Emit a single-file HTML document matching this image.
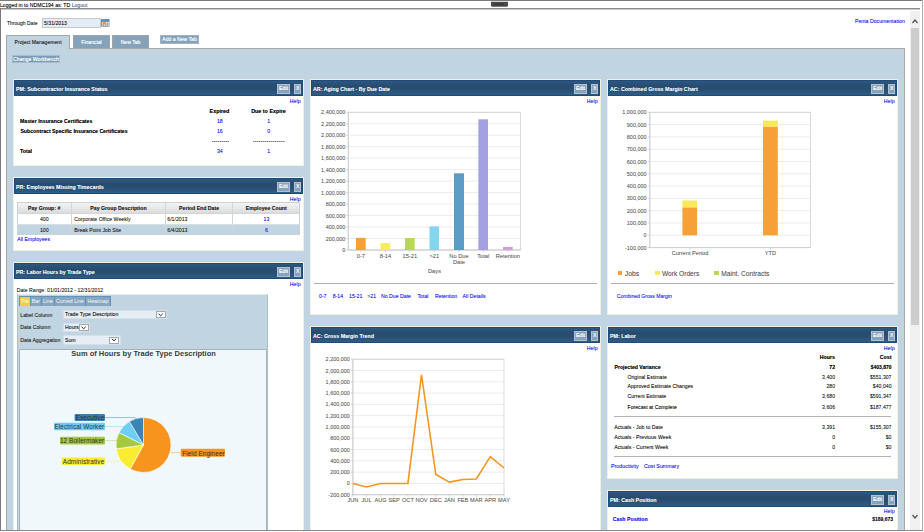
<!DOCTYPE html>
<html><head><meta charset="utf-8"><style>
html,body{margin:0;padding:0;}
body{width:924px;height:532px;overflow:hidden;position:relative;background:#fff;font-family:"Liberation Sans", sans-serif;}
.t{position:absolute;white-space:nowrap;text-shadow:0 0 0.5px color-mix(in srgb,currentColor 45%,transparent);}
.r{position:absolute;}
</style></head><body>
<div class="r" style="left:0.00px;top:0.00px;width:923.00px;height:1.00px;background:#7a7a7a;"></div>
<div class="t" style="top:2.88px;font-size:5.15px;line-height:5.15px;font-weight:normal;color:#000;left:0.00px;">Logged in to NDMC194 as: TD <span style="color:#50648c">Logout</span></div>
<div class="r" style="left:0.00px;top:8.00px;width:920.00px;height:1.00px;background:#8c8c8c;"></div>
<div class="r" style="left:0.00px;top:9.00px;width:920.00px;height:1.00px;background:#c8c8c8;"></div>
<div class="r" style="left:0.00px;top:8.00px;width:1.00px;height:523.00px;background:#7a7a7a;"></div>
<div class="r" style="left:922.00px;top:0.00px;width:1.00px;height:531.00px;background:#b0b0b0;"></div>
<div class="t" style="top:21.25px;font-size:5.0px;line-height:5.0px;font-weight:normal;color:#222;left:7.00px;">Through Date</div>
<div class="r" style="left:42.00px;top:18.00px;width:59.00px;height:10.00px;background:#e3ebf3;border:1px solid #c8c8c8;box-sizing:border-box;"></div>
<div class="t" style="top:21.48px;font-size:5.15px;line-height:5.15px;font-weight:normal;color:#111;left:44.00px;">5/31/2013</div>
<svg class="r" style="left:100.5px;top:18.8px" width="9" height="8"><rect x="0" y="0" width="8.5" height="7.7" rx="0.8" fill="#8d8d8d"/><rect x="0.3" y="0.2" width="7.9" height="2.1" fill="#4b92d2"/><rect x="1" y="3" width="1.4" height="1.6" fill="#f4f4f4"/><rect x="3" y="3" width="1.4" height="1.6" fill="#f4f4f4"/><rect x="5" y="3" width="1.4" height="1.6" fill="#f4f4f4"/><rect x="7" y="3" width="1" height="1.6" fill="#f4f4f4"/><rect x="1" y="5.2" width="1.4" height="1.7" fill="#d8d8d8"/><rect x="3" y="5.2" width="1.4" height="1.7" fill="#d8d8d8"/><rect x="5" y="5.2" width="1.4" height="1.7" fill="#d8d8d8"/><rect x="7" y="5.2" width="1" height="1.7" fill="#d8d8d8"/><circle cx="3.1" cy="3.6" r="1.3" fill="#fa8a10"/></svg>
<div class="t" style="top:19.15px;font-size:5.2px;line-height:5.2px;font-weight:normal;color:#1414f6;right:19.20px;">Penta Documentation</div>
<div class="r" style="left:6.00px;top:48.00px;width:899.00px;height:483.00px;background:#c1d4e2;border:1px solid #aaa6a6;border-bottom:none;box-sizing:border-box;"></div>
<div class="r" style="left:6.00px;top:35.00px;width:64.00px;height:14.00px;background:#c1d4e2;border:1px solid #aaa6a6;border-bottom:none;box-sizing:border-box;"></div>
<div class="t" style="top:39.70px;font-size:5.1px;line-height:5.1px;font-weight:normal;color:#111;left:14.60px;">Project Management</div>
<div class="r" style="left:73.00px;top:35.00px;width:37.00px;height:13.00px;background:#84a2b9;border:1px solid #a3a3a3;border-bottom:none;box-sizing:border-box;"></div>
<div class="t" style="top:40.00px;font-size:5.1px;line-height:5.1px;font-weight:normal;color:#ffffff;left:-58.50px;width:300px;text-align:center;text-shadow:0 0 0.5px rgba(255,255,255,0.85);">Financial</div>
<div class="r" style="left:112.00px;top:35.00px;width:37.00px;height:13.00px;background:#84a2b9;border:1px solid #a3a3a3;border-bottom:none;box-sizing:border-box;"></div>
<div class="t" style="top:40.00px;font-size:5.1px;line-height:5.1px;font-weight:normal;color:#ffffff;left:-19.50px;width:300px;text-align:center;text-shadow:0 0 0.5px rgba(255,255,255,0.85);">New Tab</div>
<div class="r" style="left:160.00px;top:35.00px;width:39.00px;height:9.00px;background:#84a2b9;border:1px solid #9fb3c3;box-sizing:border-box;"></div>
<div class="t" style="top:37.20px;font-size:5.1px;line-height:5.1px;font-weight:normal;color:#ffffff;left:29.50px;width:300px;text-align:center;text-shadow:0 0 0.5px rgba(255,255,255,0.85);">Add a New Tab</div>
<div class="r" style="left:12.00px;top:54.50px;width:48.00px;height:8.50px;background:#7b9cb6;border:1px solid #a9bccb;box-sizing:border-box;"></div>
<div class="t" style="top:57.45px;font-size:5.2px;line-height:5.2px;font-weight:normal;color:#ffffff;left:-114.00px;width:300px;text-align:center;text-shadow:0 0 0.5px rgba(255,255,255,0.85);">Change Workbench</div>
<div class="r" style="left:910.00px;top:11.00px;width:9.50px;height:519.00px;background:#f0f0f0;"></div>
<div class="r" style="left:911.00px;top:28.00px;width:8.00px;height:297.00px;background:#cdcdcd;"></div>
<svg class="r" style="left:910px;top:15px" width="10" height="12"><polyline points="2.5,8 5,5 7.5,8" fill="none" stroke="#505050" stroke-width="1.2"/></svg>
<svg class="r" style="left:910px;top:511px" width="10" height="12"><polyline points="2.5,4 5,7 7.5,4" fill="none" stroke="#505050" stroke-width="1.2"/></svg>
<div class="r" style="left:13.00px;top:79.00px;width:291.00px;height:87.00px;background:#ffffff;border:1px solid #f3efe2;box-sizing:border-box;"></div>
<div class="r" style="left:14.00px;top:80.00px;width:289.00px;height:16.00px;background:linear-gradient(#2c5882 0%,#284c6f 35%,#294e71 60%,#2e5d86 100%);border:1px solid #1f4b7b;box-sizing:border-box;"></div>
<div class="t" style="top:86.50px;font-size:5.3px;line-height:5.3px;font-weight:bold;color:#f8fafc;-webkit-text-stroke:0;left:16.00px;">PM: Subcontractor Insurance Status</div>
<div class="r" style="left:277.00px;top:84.00px;width:13.00px;height:10.00px;background:#86a3bd;border:1px solid #b4c2cf;box-sizing:border-box;"></div>
<div class="t" style="top:86.30px;font-size:5.3px;line-height:5.3px;font-weight:normal;color:#ffffff;left:133.50px;width:300px;text-align:center;text-shadow:0 0 0.5px rgba(255,255,255,0.85);">Edit</div>
<div class="r" style="left:294.40px;top:84.00px;width:6.60px;height:10.00px;background:#86a3bd;border:1px solid #b4c2cf;box-sizing:border-box;"></div>
<div class="t" style="top:86.35px;font-size:5.2px;line-height:5.2px;font-weight:normal;color:#ffffff;left:147.70px;width:300px;text-align:center;text-shadow:0 0 0.5px rgba(255,255,255,0.85);">X</div>
<div class="t" style="top:98.62px;font-size:5.25px;line-height:5.25px;font-weight:normal;color:#1414f6;right:623.40px;">Help</div>
<div class="r" style="left:13.00px;top:177.00px;width:291.00px;height:74.00px;background:#ffffff;border:1px solid #f3efe2;box-sizing:border-box;"></div>
<div class="r" style="left:14.00px;top:178.00px;width:289.00px;height:16.00px;background:linear-gradient(#2c5882 0%,#284c6f 35%,#294e71 60%,#2e5d86 100%);border:1px solid #1f4b7b;box-sizing:border-box;"></div>
<div class="t" style="top:184.50px;font-size:5.3px;line-height:5.3px;font-weight:bold;color:#f8fafc;-webkit-text-stroke:0;left:16.00px;">PR: Employees Missing Timecards</div>
<div class="r" style="left:277.00px;top:182.00px;width:13.00px;height:10.00px;background:#86a3bd;border:1px solid #b4c2cf;box-sizing:border-box;"></div>
<div class="t" style="top:184.30px;font-size:5.3px;line-height:5.3px;font-weight:normal;color:#ffffff;left:133.50px;width:300px;text-align:center;text-shadow:0 0 0.5px rgba(255,255,255,0.85);">Edit</div>
<div class="r" style="left:294.40px;top:182.00px;width:6.60px;height:10.00px;background:#86a3bd;border:1px solid #b4c2cf;box-sizing:border-box;"></div>
<div class="t" style="top:184.35px;font-size:5.2px;line-height:5.2px;font-weight:normal;color:#ffffff;left:147.70px;width:300px;text-align:center;text-shadow:0 0 0.5px rgba(255,255,255,0.85);">X</div>
<div class="t" style="top:196.62px;font-size:5.25px;line-height:5.25px;font-weight:normal;color:#1414f6;right:623.40px;">Help</div>
<div class="r" style="left:13.00px;top:262.00px;width:291.00px;height:278.00px;background:#ffffff;border:1px solid #f3efe2;box-sizing:border-box;"></div>
<div class="r" style="left:14.00px;top:263.00px;width:289.00px;height:16.00px;background:linear-gradient(#2c5882 0%,#284c6f 35%,#294e71 60%,#2e5d86 100%);border:1px solid #1f4b7b;box-sizing:border-box;"></div>
<div class="t" style="top:269.50px;font-size:5.3px;line-height:5.3px;font-weight:bold;color:#f8fafc;-webkit-text-stroke:0;left:16.00px;">PR: Labor Hours by Trade Type</div>
<div class="r" style="left:277.00px;top:267.00px;width:13.00px;height:10.00px;background:#86a3bd;border:1px solid #b4c2cf;box-sizing:border-box;"></div>
<div class="t" style="top:269.30px;font-size:5.3px;line-height:5.3px;font-weight:normal;color:#ffffff;left:133.50px;width:300px;text-align:center;text-shadow:0 0 0.5px rgba(255,255,255,0.85);">Edit</div>
<div class="r" style="left:294.40px;top:267.00px;width:6.60px;height:10.00px;background:#86a3bd;border:1px solid #b4c2cf;box-sizing:border-box;"></div>
<div class="t" style="top:269.35px;font-size:5.2px;line-height:5.2px;font-weight:normal;color:#ffffff;left:147.70px;width:300px;text-align:center;text-shadow:0 0 0.5px rgba(255,255,255,0.85);">X</div>
<div class="t" style="top:281.62px;font-size:5.25px;line-height:5.25px;font-weight:normal;color:#1414f6;right:623.40px;">Help</div>
<div class="r" style="left:310.00px;top:79.00px;width:291.00px;height:236.00px;background:#ffffff;border:1px solid #f3efe2;box-sizing:border-box;"></div>
<div class="r" style="left:311.00px;top:80.00px;width:289.00px;height:16.00px;background:linear-gradient(#2c5882 0%,#284c6f 35%,#294e71 60%,#2e5d86 100%);border:1px solid #1f4b7b;box-sizing:border-box;"></div>
<div class="t" style="top:86.50px;font-size:5.3px;line-height:5.3px;font-weight:bold;color:#f8fafc;-webkit-text-stroke:0;left:313.00px;">AR: Aging Chart - By Due Date</div>
<div class="r" style="left:574.00px;top:84.00px;width:13.00px;height:10.00px;background:#86a3bd;border:1px solid #b4c2cf;box-sizing:border-box;"></div>
<div class="t" style="top:86.30px;font-size:5.3px;line-height:5.3px;font-weight:normal;color:#ffffff;left:430.50px;width:300px;text-align:center;text-shadow:0 0 0.5px rgba(255,255,255,0.85);">Edit</div>
<div class="r" style="left:591.40px;top:84.00px;width:6.60px;height:10.00px;background:#86a3bd;border:1px solid #b4c2cf;box-sizing:border-box;"></div>
<div class="t" style="top:86.35px;font-size:5.2px;line-height:5.2px;font-weight:normal;color:#ffffff;left:444.70px;width:300px;text-align:center;text-shadow:0 0 0.5px rgba(255,255,255,0.85);">X</div>
<div class="t" style="top:98.62px;font-size:5.25px;line-height:5.25px;font-weight:normal;color:#1414f6;right:326.40px;">Help</div>
<div class="r" style="left:310.00px;top:326.00px;width:291.00px;height:214.00px;background:#ffffff;border:1px solid #f3efe2;box-sizing:border-box;"></div>
<div class="r" style="left:311.00px;top:327.00px;width:289.00px;height:16.00px;background:linear-gradient(#2c5882 0%,#284c6f 35%,#294e71 60%,#2e5d86 100%);border:1px solid #1f4b7b;box-sizing:border-box;"></div>
<div class="t" style="top:333.50px;font-size:5.3px;line-height:5.3px;font-weight:bold;color:#f8fafc;-webkit-text-stroke:0;left:313.00px;">AC: Gross Margin Trend</div>
<div class="r" style="left:574.00px;top:331.00px;width:13.00px;height:10.00px;background:#86a3bd;border:1px solid #b4c2cf;box-sizing:border-box;"></div>
<div class="t" style="top:333.30px;font-size:5.3px;line-height:5.3px;font-weight:normal;color:#ffffff;left:430.50px;width:300px;text-align:center;text-shadow:0 0 0.5px rgba(255,255,255,0.85);">Edit</div>
<div class="r" style="left:591.40px;top:331.00px;width:6.60px;height:10.00px;background:#86a3bd;border:1px solid #b4c2cf;box-sizing:border-box;"></div>
<div class="t" style="top:333.35px;font-size:5.2px;line-height:5.2px;font-weight:normal;color:#ffffff;left:444.70px;width:300px;text-align:center;text-shadow:0 0 0.5px rgba(255,255,255,0.85);">X</div>
<div class="t" style="top:345.62px;font-size:5.25px;line-height:5.25px;font-weight:normal;color:#1414f6;right:326.40px;">Help</div>
<div class="r" style="left:607.00px;top:79.00px;width:291.00px;height:236.00px;background:#ffffff;border:1px solid #f3efe2;box-sizing:border-box;"></div>
<div class="r" style="left:608.00px;top:80.00px;width:289.00px;height:16.00px;background:linear-gradient(#2c5882 0%,#284c6f 35%,#294e71 60%,#2e5d86 100%);border:1px solid #1f4b7b;box-sizing:border-box;"></div>
<div class="t" style="top:86.50px;font-size:5.3px;line-height:5.3px;font-weight:bold;color:#f8fafc;-webkit-text-stroke:0;left:610.00px;">AC: Combined Gross Margin Chart</div>
<div class="r" style="left:871.00px;top:84.00px;width:13.00px;height:10.00px;background:#86a3bd;border:1px solid #b4c2cf;box-sizing:border-box;"></div>
<div class="t" style="top:86.30px;font-size:5.3px;line-height:5.3px;font-weight:normal;color:#ffffff;left:727.50px;width:300px;text-align:center;text-shadow:0 0 0.5px rgba(255,255,255,0.85);">Edit</div>
<div class="r" style="left:888.40px;top:84.00px;width:6.60px;height:10.00px;background:#86a3bd;border:1px solid #b4c2cf;box-sizing:border-box;"></div>
<div class="t" style="top:86.35px;font-size:5.2px;line-height:5.2px;font-weight:normal;color:#ffffff;left:741.70px;width:300px;text-align:center;text-shadow:0 0 0.5px rgba(255,255,255,0.85);">X</div>
<div class="t" style="top:98.62px;font-size:5.25px;line-height:5.25px;font-weight:normal;color:#1414f6;right:29.40px;">Help</div>
<div class="r" style="left:607.00px;top:326.00px;width:291.00px;height:153.00px;background:#ffffff;border:1px solid #f3efe2;box-sizing:border-box;"></div>
<div class="r" style="left:608.00px;top:327.00px;width:289.00px;height:16.00px;background:linear-gradient(#2c5882 0%,#284c6f 35%,#294e71 60%,#2e5d86 100%);border:1px solid #1f4b7b;box-sizing:border-box;"></div>
<div class="t" style="top:333.50px;font-size:5.3px;line-height:5.3px;font-weight:bold;color:#f8fafc;-webkit-text-stroke:0;left:610.00px;">PM: Labor</div>
<div class="r" style="left:871.00px;top:331.00px;width:13.00px;height:10.00px;background:#86a3bd;border:1px solid #b4c2cf;box-sizing:border-box;"></div>
<div class="t" style="top:333.30px;font-size:5.3px;line-height:5.3px;font-weight:normal;color:#ffffff;left:727.50px;width:300px;text-align:center;text-shadow:0 0 0.5px rgba(255,255,255,0.85);">Edit</div>
<div class="r" style="left:888.40px;top:331.00px;width:6.60px;height:10.00px;background:#86a3bd;border:1px solid #b4c2cf;box-sizing:border-box;"></div>
<div class="t" style="top:333.35px;font-size:5.2px;line-height:5.2px;font-weight:normal;color:#ffffff;left:741.70px;width:300px;text-align:center;text-shadow:0 0 0.5px rgba(255,255,255,0.85);">X</div>
<div class="t" style="top:345.62px;font-size:5.25px;line-height:5.25px;font-weight:normal;color:#1414f6;right:29.40px;">Help</div>
<div class="r" style="left:607.00px;top:490.00px;width:291.00px;height:50.00px;background:#ffffff;border:1px solid #f3efe2;box-sizing:border-box;"></div>
<div class="r" style="left:608.00px;top:491.00px;width:289.00px;height:16.00px;background:linear-gradient(#2c5882 0%,#284c6f 35%,#294e71 60%,#2e5d86 100%);border:1px solid #1f4b7b;box-sizing:border-box;"></div>
<div class="t" style="top:497.50px;font-size:5.3px;line-height:5.3px;font-weight:bold;color:#f8fafc;-webkit-text-stroke:0;left:610.00px;">PM: Cash Position</div>
<div class="r" style="left:871.00px;top:495.00px;width:13.00px;height:10.00px;background:#86a3bd;border:1px solid #b4c2cf;box-sizing:border-box;"></div>
<div class="t" style="top:497.30px;font-size:5.3px;line-height:5.3px;font-weight:normal;color:#ffffff;left:727.50px;width:300px;text-align:center;text-shadow:0 0 0.5px rgba(255,255,255,0.85);">Edit</div>
<div class="r" style="left:888.40px;top:495.00px;width:6.60px;height:10.00px;background:#86a3bd;border:1px solid #b4c2cf;box-sizing:border-box;"></div>
<div class="t" style="top:497.35px;font-size:5.2px;line-height:5.2px;font-weight:normal;color:#ffffff;left:741.70px;width:300px;text-align:center;text-shadow:0 0 0.5px rgba(255,255,255,0.85);">X</div>
<div class="t" style="top:508.73px;font-size:5.25px;line-height:5.25px;font-weight:normal;color:#1414f6;right:29.40px;">Help</div>
<div class="t" style="top:108.55px;font-size:5.4px;line-height:5.4px;font-weight:bold;color:#000;-webkit-text-stroke:0;left:69.50px;width:300px;text-align:center;">Expired</div>
<div class="t" style="top:108.55px;font-size:5.4px;line-height:5.4px;font-weight:bold;color:#000;-webkit-text-stroke:0;left:118.50px;width:300px;text-align:center;">Due to Expire</div>
<div class="t" style="top:119.15px;font-size:5.2px;line-height:5.2px;font-weight:bold;color:#000;-webkit-text-stroke:0;left:20.00px;">Master Insurance Certificates</div>
<div class="t" style="top:129.15px;font-size:5.2px;line-height:5.2px;font-weight:bold;color:#000;-webkit-text-stroke:0;left:20.40px;">Subcontract Specific Insurance Certificates</div>
<div class="t" style="top:148.95px;font-size:5.2px;line-height:5.2px;font-weight:bold;color:#000;-webkit-text-stroke:0;left:20.00px;">Total</div>
<div class="t" style="top:119.15px;font-size:5.2px;line-height:5.2px;font-weight:normal;color:#1414f6;left:69.80px;width:300px;text-align:center;">18</div>
<div class="t" style="top:119.15px;font-size:5.2px;line-height:5.2px;font-weight:normal;color:#1414f6;left:118.70px;width:300px;text-align:center;">1</div>
<div class="t" style="top:129.15px;font-size:5.2px;line-height:5.2px;font-weight:normal;color:#1414f6;left:69.80px;width:300px;text-align:center;">16</div>
<div class="t" style="top:129.15px;font-size:5.2px;line-height:5.2px;font-weight:normal;color:#1414f6;left:118.70px;width:300px;text-align:center;">0</div>
<div class="t" style="top:148.95px;font-size:5.2px;line-height:5.2px;font-weight:normal;color:#1414f6;left:69.80px;width:300px;text-align:center;">34</div>
<div class="t" style="top:148.95px;font-size:5.2px;line-height:5.2px;font-weight:normal;color:#1414f6;left:118.70px;width:300px;text-align:center;">1</div>
<div class="r" style="left:212.00px;top:141.00px;width:17.00px;height:1.00px;background:repeating-linear-gradient(90deg,#7c7c7c 0 1px,#b4b4b4 1px 2px);"></div>
<div class="r" style="left:253.00px;top:141.00px;width:32.00px;height:1.00px;background:repeating-linear-gradient(90deg,#7c7c7c 0 1px,#b4b4b4 1px 2px);"></div>
<div class="r" style="left:17.00px;top:202.00px;width:283.00px;height:11.50px;background:linear-gradient(#f6f6f6,#d9d9d9);"></div>
<div class="r" style="left:17.00px;top:213.50px;width:283.00px;height:10.50px;background:#ffffff;"></div>
<div class="r" style="left:17.00px;top:224.00px;width:283.00px;height:11.00px;background:#c1d4e2;"></div>
<div class="r" style="left:17px;top:202px;width:283px;height:33px;border:1px solid #c9d2d8;box-sizing:border-box"></div>
<div class="r" style="left:70.80px;top:202.00px;width:1.00px;height:33.00px;background:#cfd6da;"></div>
<div class="r" style="left:165.10px;top:202.00px;width:1.00px;height:33.00px;background:#cfd6da;"></div>
<div class="r" style="left:232.10px;top:202.00px;width:1.00px;height:33.00px;background:#cfd6da;"></div>
<div class="r" style="left:17.00px;top:213.00px;width:283.00px;height:1.00px;background:#d0d6da;"></div>
<div class="r" style="left:17.00px;top:224.00px;width:283.00px;height:1.00px;background:#d8dfe4;"></div>
<div class="t" style="top:206.35px;font-size:5.2px;line-height:5.2px;font-weight:bold;color:#222;-webkit-text-stroke:0;left:-105.85px;width:300px;text-align:center;">Pay Group: #</div>
<div class="t" style="top:206.35px;font-size:5.2px;line-height:5.2px;font-weight:bold;color:#222;-webkit-text-stroke:0;left:-31.55px;width:300px;text-align:center;">Pay Group Description</div>
<div class="t" style="top:206.35px;font-size:5.2px;line-height:5.2px;font-weight:bold;color:#222;-webkit-text-stroke:0;left:49.10px;width:300px;text-align:center;">Period End Date</div>
<div class="t" style="top:206.35px;font-size:5.2px;line-height:5.2px;font-weight:bold;color:#222;-webkit-text-stroke:0;left:116.30px;width:300px;text-align:center;">Employee Count</div>
<div class="t" style="top:216.95px;font-size:5.2px;line-height:5.2px;font-weight:normal;color:#222;left:-105.80px;width:300px;text-align:center;">400</div>
<div class="t" style="top:216.95px;font-size:5.2px;line-height:5.2px;font-weight:normal;color:#222;left:74.20px;">Corporate Office Weekly</div>
<div class="t" style="top:216.95px;font-size:5.2px;line-height:5.2px;font-weight:normal;color:#222;left:167.30px;">6/1/2013</div>
<div class="t" style="top:216.95px;font-size:5.2px;line-height:5.2px;font-weight:normal;color:#1414f6;left:116.40px;width:300px;text-align:center;">13</div>
<div class="t" style="top:227.75px;font-size:5.2px;line-height:5.2px;font-weight:normal;color:#222;left:-105.80px;width:300px;text-align:center;">100</div>
<div class="t" style="top:227.75px;font-size:5.2px;line-height:5.2px;font-weight:normal;color:#222;left:74.20px;">Break Point Job Site</div>
<div class="t" style="top:227.75px;font-size:5.2px;line-height:5.2px;font-weight:normal;color:#222;left:167.30px;">6/4/2013</div>
<div class="t" style="top:227.75px;font-size:5.2px;line-height:5.2px;font-weight:normal;color:#1414f6;left:116.40px;width:300px;text-align:center;">6</div>
<div class="t" style="top:237.15px;font-size:5.2px;line-height:5.2px;font-weight:normal;color:#1414f6;left:17.20px;">All Employees</div>
<div class="t" style="top:287.88px;font-size:5.15px;line-height:5.15px;font-weight:normal;color:#222;left:16.80px;">Date Range: 01/01/2012 - 12/31/2012</div>
<div class="r" style="left:17.00px;top:294.00px;width:251.00px;height:237.00px;background:#c1d4e2;border:1px solid #aebfcc;border-top-color:#e4ecf2;box-sizing:border-box;"></div>
<div class="r" style="left:19.40px;top:296.20px;width:91.30px;height:10.10px;background:#5f93b8;"></div>
<div class="r" style="left:20.30px;top:297.00px;width:9.50px;height:8.50px;background:#f7cb4c;"></div>
<div class="t" style="top:298.95px;font-size:5.2px;line-height:5.2px;font-weight:normal;color:#fffdf0;left:-124.95px;width:300px;text-align:center;text-shadow:none;">Pie</div>
<div class="r" style="left:30.70px;top:297.00px;width:10.30px;height:8.50px;background:#87a6bf;"></div>
<div class="t" style="top:298.95px;font-size:5.2px;line-height:5.2px;font-weight:normal;color:#f8fafc;left:-114.15px;width:300px;text-align:center;text-shadow:none;">Bar</div>
<div class="r" style="left:42.00px;top:297.00px;width:12.00px;height:8.50px;background:#87a6bf;"></div>
<div class="t" style="top:298.95px;font-size:5.2px;line-height:5.2px;font-weight:normal;color:#f8fafc;left:-102.00px;width:300px;text-align:center;text-shadow:none;">Line</div>
<div class="r" style="left:55.00px;top:297.00px;width:30.00px;height:8.50px;background:#87a6bf;"></div>
<div class="t" style="top:298.95px;font-size:5.2px;line-height:5.2px;font-weight:normal;color:#f8fafc;left:-80.00px;width:300px;text-align:center;text-shadow:none;">Curved Line</div>
<div class="r" style="left:86.00px;top:297.00px;width:24.00px;height:8.50px;background:#87a6bf;"></div>
<div class="t" style="top:298.95px;font-size:5.2px;line-height:5.2px;font-weight:normal;color:#f8fafc;left:-52.00px;width:300px;text-align:center;text-shadow:none;">Heatmap</div>
<div class="t" style="top:313.15px;font-size:5.2px;line-height:5.2px;font-weight:normal;color:#222;left:20.30px;">Label Column</div>
<div class="t" style="top:325.45px;font-size:5.2px;line-height:5.2px;font-weight:normal;color:#222;left:20.30px;">Data Column</div>
<div class="t" style="top:337.85px;font-size:5.2px;line-height:5.2px;font-weight:normal;color:#222;left:20.30px;">Data Aggregation</div>
<div class="r" style="left:62.80px;top:309.50px;width:104.20px;height:9.50px;background:#e6eef5;border:1px solid #d6dfe7;box-sizing:border-box;"></div>
<div class="t" style="top:312.35px;font-size:5.2px;line-height:5.2px;font-weight:normal;color:#111;left:65.00px;">Trade Type Description</div>
<div class="r" style="left:156.30px;top:311.30px;width:9.30px;height:6.90px;background:#fdfdfd;border:1px solid #a3a9ae;box-sizing:border-box;"></div>
<svg class="r" style="left:156.30px;top:309.50px" width="9.3" height="9.50"><polyline points="2.55,3.75 4.65,5.75 6.75,3.75" fill="none" stroke="#1a1a1a" stroke-width="0.95"/></svg>
<div class="r" style="left:62.80px;top:322.50px;width:27.20px;height:9.50px;background:#e6eef5;border:1px solid #d6dfe7;box-sizing:border-box;"></div>
<div class="t" style="top:325.35px;font-size:5.2px;line-height:5.2px;font-weight:normal;color:#111;left:65.00px;">Hours</div>
<div class="r" style="left:79.40px;top:324.30px;width:9.30px;height:6.90px;background:#fdfdfd;border:1px solid #a3a9ae;box-sizing:border-box;"></div>
<svg class="r" style="left:79.40px;top:322.50px" width="9.3" height="9.50"><polyline points="2.55,3.75 4.65,5.75 6.75,3.75" fill="none" stroke="#1a1a1a" stroke-width="0.95"/></svg>
<div class="r" style="left:62.80px;top:335.00px;width:57.80px;height:9.60px;background:#e6eef5;border:1px solid #d6dfe7;box-sizing:border-box;"></div>
<div class="t" style="top:337.95px;font-size:5.2px;line-height:5.2px;font-weight:normal;color:#111;left:65.00px;">Sum</div>
<div class="r" style="left:109.30px;top:336.80px;width:10.00px;height:7.00px;background:#fdfdfd;border:1px solid #a3a9ae;box-sizing:border-box;"></div>
<svg class="r" style="left:109.30px;top:335.00px" width="10" height="9.60"><polyline points="2.90,3.80 5.00,5.80 7.10,3.80" fill="none" stroke="#1a1a1a" stroke-width="0.95"/></svg>
<div class="r" style="left:19.00px;top:348.50px;width:248.00px;height:182.50px;background:#f1f8fc;border:1px solid #a9b1b8;border-bottom:none;box-sizing:border-box;border-radius:1.5px 1.5px 0 0;"></div>
<div class="t" style="top:350.00px;font-size:7.5px;line-height:7.5px;font-weight:bold;color:#3a3a3a;-webkit-text-stroke:0;left:-6.40px;width:300px;text-align:center;text-shadow:none;">Sum of Hours by Trade Type Description</div>
<svg class="r" style="left:0;top:0" width="300" height="532"><path d="M143.5,445 L143.50,417.50 A27.5,27.5 0 1 1 130.17,469.05 Z" fill="#f7941d" stroke="#fff" stroke-width="0.6"/><path d="M143.5,445 L130.17,469.05 A27.5,27.5 0 0 1 116.27,448.83 Z" fill="#f9ec31" stroke="#fff" stroke-width="0.6"/><path d="M143.5,445 L116.27,448.83 A27.5,27.5 0 0 1 119.00,432.52 Z" fill="#a5c93d" stroke="#fff" stroke-width="0.6"/><path d="M143.5,445 L119.00,432.52 A27.5,27.5 0 0 1 129.34,421.43 Z" fill="#6dcff6" stroke="#fff" stroke-width="0.6"/><path d="M143.5,445 L129.34,421.43 A27.5,27.5 0 0 1 143.50,417.50 Z" fill="#3c84b7" stroke="#fff" stroke-width="0.6"/><polyline points="105,417.6 135,417.6 137.5,420" fill="none" stroke="#5a95c0" stroke-width="0.6"/><polyline points="105,426.5 124,426.5" fill="none" stroke="#8fdaf8" stroke-width="0.6"/><polyline points="105,440.6 117,440.6" fill="none" stroke="#b8d86a" stroke-width="0.6"/><polyline points="105,461.2 121,461.2" fill="none" stroke="#f7f08a" stroke-width="0.6"/><polyline points="171,452.7 180.7,452.7" fill="none" stroke="#f7a84a" stroke-width="0.6"/><rect x="74.6" y="414" width="30.400000000000006" height="7" rx="1.2" fill="#3c7fb2"/><rect x="54" y="422.7" width="51" height="7.600000000000023" rx="1.2" fill="#6dcff6"/><rect x="60" y="436.8" width="45" height="7.599999999999966" rx="1.2" fill="#a5c93d"/><rect x="61.6" y="457.4" width="43.4" height="7.600000000000023" rx="1.2" fill="#f9ec31"/><rect x="180.7" y="448.7" width="44.30000000000001" height="8.0" rx="1.2" fill="#f7941d"/></svg>
<div class="t" style="top:415.45px;font-size:6.4px;line-height:6.4px;font-weight:normal;color:#2e2e2e;right:819.70px;text-shadow:none;letter-spacing:0.1px;">Executive</div>
<div class="t" style="top:424.35px;font-size:6.4px;line-height:6.4px;font-weight:normal;color:#2e2e2e;right:819.70px;text-shadow:none;letter-spacing:0.1px;">Electrical Worker</div>
<div class="t" style="top:438.45px;font-size:6.4px;line-height:6.4px;font-weight:normal;color:#2e2e2e;right:819.70px;text-shadow:none;letter-spacing:0.1px;">12 Boilermaker</div>
<div class="t" style="top:459.05px;font-size:6.4px;line-height:6.4px;font-weight:normal;color:#2e2e2e;right:819.70px;text-shadow:none;letter-spacing:0.1px;">Administrative</div>
<div class="t" style="top:450.65px;font-size:6.4px;line-height:6.4px;font-weight:normal;color:#2e2e2e;left:182.20px;text-shadow:none;letter-spacing:0.1px;">Field Engineer</div>
<svg class="r" style="left:0;top:0" width="924" height="532"><line x1="348.3" y1="250.00" x2="520.5" y2="250.00" stroke="#e6e6e6" stroke-width="0.8"/><line x1="346.3" y1="250.00" x2="348.3" y2="250.00" stroke="#c8c8c8" stroke-width="0.8"/><line x1="348.3" y1="238.53" x2="520.5" y2="238.53" stroke="#e6e6e6" stroke-width="0.8"/><line x1="346.3" y1="238.53" x2="348.3" y2="238.53" stroke="#c8c8c8" stroke-width="0.8"/><line x1="348.3" y1="227.05" x2="520.5" y2="227.05" stroke="#e6e6e6" stroke-width="0.8"/><line x1="346.3" y1="227.05" x2="348.3" y2="227.05" stroke="#c8c8c8" stroke-width="0.8"/><line x1="348.3" y1="215.57" x2="520.5" y2="215.57" stroke="#e6e6e6" stroke-width="0.8"/><line x1="346.3" y1="215.57" x2="348.3" y2="215.57" stroke="#c8c8c8" stroke-width="0.8"/><line x1="348.3" y1="204.10" x2="520.5" y2="204.10" stroke="#e6e6e6" stroke-width="0.8"/><line x1="346.3" y1="204.10" x2="348.3" y2="204.10" stroke="#c8c8c8" stroke-width="0.8"/><line x1="348.3" y1="192.62" x2="520.5" y2="192.62" stroke="#e6e6e6" stroke-width="0.8"/><line x1="346.3" y1="192.62" x2="348.3" y2="192.62" stroke="#c8c8c8" stroke-width="0.8"/><line x1="348.3" y1="181.15" x2="520.5" y2="181.15" stroke="#e6e6e6" stroke-width="0.8"/><line x1="346.3" y1="181.15" x2="348.3" y2="181.15" stroke="#c8c8c8" stroke-width="0.8"/><line x1="348.3" y1="169.68" x2="520.5" y2="169.68" stroke="#e6e6e6" stroke-width="0.8"/><line x1="346.3" y1="169.68" x2="348.3" y2="169.68" stroke="#c8c8c8" stroke-width="0.8"/><line x1="348.3" y1="158.20" x2="520.5" y2="158.20" stroke="#e6e6e6" stroke-width="0.8"/><line x1="346.3" y1="158.20" x2="348.3" y2="158.20" stroke="#c8c8c8" stroke-width="0.8"/><line x1="348.3" y1="146.73" x2="520.5" y2="146.73" stroke="#e6e6e6" stroke-width="0.8"/><line x1="346.3" y1="146.73" x2="348.3" y2="146.73" stroke="#c8c8c8" stroke-width="0.8"/><line x1="348.3" y1="135.25" x2="520.5" y2="135.25" stroke="#e6e6e6" stroke-width="0.8"/><line x1="346.3" y1="135.25" x2="348.3" y2="135.25" stroke="#c8c8c8" stroke-width="0.8"/><line x1="348.3" y1="123.78" x2="520.5" y2="123.78" stroke="#e6e6e6" stroke-width="0.8"/><line x1="346.3" y1="123.78" x2="348.3" y2="123.78" stroke="#c8c8c8" stroke-width="0.8"/><line x1="348.3" y1="112.30" x2="520.5" y2="112.30" stroke="#e6e6e6" stroke-width="0.8"/><line x1="346.3" y1="112.30" x2="348.3" y2="112.30" stroke="#c8c8c8" stroke-width="0.8"/><rect x="348.3" y="112.30" width="172.2" height="137.70" fill="none" stroke="#cfcfcf" stroke-width="0.8"/><line x1="348.3" y1="112.30" x2="348.3" y2="250" stroke="#d0d0d0" stroke-width="1"/><line x1="348.3" y1="250" x2="520.5" y2="250" stroke="#cfcfcf" stroke-width="0.9"/><rect x="356" y="237.9" width="9.70" height="12.10" fill="#f7a035"/><line x1="360.85" y1="250" x2="360.85" y2="252" stroke="#c8c8c8" stroke-width="0.8"/><rect x="380.5" y="243" width="9.90" height="7.00" fill="#f9ee5a"/><line x1="385.45" y1="250" x2="385.45" y2="252" stroke="#c8c8c8" stroke-width="0.8"/><rect x="405" y="238" width="9.60" height="12.00" fill="#b7d84f"/><line x1="409.80" y1="250" x2="409.80" y2="252" stroke="#c8c8c8" stroke-width="0.8"/><rect x="429.5" y="226.4" width="9.50" height="23.60" fill="#84d5ef"/><line x1="434.25" y1="250" x2="434.25" y2="252" stroke="#c8c8c8" stroke-width="0.8"/><rect x="454" y="173.3" width="10.00" height="76.70" fill="#5c9bc4"/><line x1="459.00" y1="250" x2="459.00" y2="252" stroke="#c8c8c8" stroke-width="0.8"/><rect x="478.4" y="119.3" width="9.60" height="130.70" fill="#a49fe0"/><line x1="483.20" y1="250" x2="483.20" y2="252" stroke="#c8c8c8" stroke-width="0.8"/><rect x="503" y="247" width="9.70" height="3.00" fill="#d49cd9"/><line x1="507.85" y1="250" x2="507.85" y2="252" stroke="#c8c8c8" stroke-width="0.8"/></svg>
<div class="t" style="top:248.03px;font-size:5.45px;line-height:5.45px;font-weight:normal;color:#626262;right:578.70px;">0</div>
<div class="t" style="top:236.55px;font-size:5.45px;line-height:5.45px;font-weight:normal;color:#626262;right:578.70px;">200,000</div>
<div class="t" style="top:225.08px;font-size:5.45px;line-height:5.45px;font-weight:normal;color:#626262;right:578.70px;">400,000</div>
<div class="t" style="top:213.60px;font-size:5.45px;line-height:5.45px;font-weight:normal;color:#626262;right:578.70px;">600,000</div>
<div class="t" style="top:202.12px;font-size:5.45px;line-height:5.45px;font-weight:normal;color:#626262;right:578.70px;">800,000</div>
<div class="t" style="top:190.65px;font-size:5.45px;line-height:5.45px;font-weight:normal;color:#626262;right:578.70px;">1,000,000</div>
<div class="t" style="top:179.18px;font-size:5.45px;line-height:5.45px;font-weight:normal;color:#626262;right:578.70px;">1,200,000</div>
<div class="t" style="top:167.70px;font-size:5.45px;line-height:5.45px;font-weight:normal;color:#626262;right:578.70px;">1,400,000</div>
<div class="t" style="top:156.22px;font-size:5.45px;line-height:5.45px;font-weight:normal;color:#626262;right:578.70px;">1,600,000</div>
<div class="t" style="top:144.75px;font-size:5.45px;line-height:5.45px;font-weight:normal;color:#626262;right:578.70px;">1,800,000</div>
<div class="t" style="top:133.28px;font-size:5.45px;line-height:5.45px;font-weight:normal;color:#626262;right:578.70px;">2,000,000</div>
<div class="t" style="top:121.80px;font-size:5.45px;line-height:5.45px;font-weight:normal;color:#626262;right:578.70px;">2,200,000</div>
<div class="t" style="top:110.33px;font-size:5.45px;line-height:5.45px;font-weight:normal;color:#626262;right:578.70px;">2,400,000</div>
<div class="t" style="top:254.10px;font-size:5.7px;line-height:5.7px;font-weight:normal;color:#666;left:210.85px;width:300px;text-align:center;">0-7</div>
<div class="t" style="top:254.10px;font-size:5.7px;line-height:5.7px;font-weight:normal;color:#666;left:235.45px;width:300px;text-align:center;">8-14</div>
<div class="t" style="top:254.10px;font-size:5.7px;line-height:5.7px;font-weight:normal;color:#666;left:259.80px;width:300px;text-align:center;">15-21</div>
<div class="t" style="top:254.10px;font-size:5.7px;line-height:5.7px;font-weight:normal;color:#666;left:284.25px;width:300px;text-align:center;">&gt;21</div>
<div class="t" style="top:254.10px;font-size:5.7px;line-height:5.7px;font-weight:normal;color:#666;left:309.00px;width:300px;text-align:center;">No Due</div>
<div class="t" style="top:254.10px;font-size:5.7px;line-height:5.7px;font-weight:normal;color:#666;left:333.20px;width:300px;text-align:center;">Total</div>
<div class="t" style="top:254.10px;font-size:5.7px;line-height:5.7px;font-weight:normal;color:#666;left:357.85px;width:300px;text-align:center;">Retention</div>
<div class="t" style="top:260.20px;font-size:5.7px;line-height:5.7px;font-weight:normal;color:#666;left:309.00px;width:300px;text-align:center;">Date</div>
<div class="t" style="top:268.50px;font-size:5.7px;line-height:5.7px;font-weight:normal;color:#666;left:284.50px;width:300px;text-align:center;">Days</div>
<div class="r" style="left:313.70px;top:283.00px;width:283.30px;height:1.00px;background:#b0b0b0;"></div>
<div class="t" style="top:294.35px;font-size:5.2px;line-height:5.2px;font-weight:normal;color:#1414f6;left:319.00px;">0-7</div>
<div class="t" style="top:294.35px;font-size:5.2px;line-height:5.2px;font-weight:normal;color:#1414f6;left:332.70px;">8-14</div>
<div class="t" style="top:294.35px;font-size:5.2px;line-height:5.2px;font-weight:normal;color:#1414f6;left:349.00px;">15-21</div>
<div class="t" style="top:294.35px;font-size:5.2px;line-height:5.2px;font-weight:normal;color:#1414f6;left:367.30px;">&gt;21</div>
<div class="t" style="top:294.35px;font-size:5.2px;line-height:5.2px;font-weight:normal;color:#1414f6;left:381.00px;">No Due Date</div>
<div class="t" style="top:294.35px;font-size:5.2px;line-height:5.2px;font-weight:normal;color:#1414f6;left:417.50px;">Total</div>
<div class="t" style="top:294.35px;font-size:5.2px;line-height:5.2px;font-weight:normal;color:#1414f6;left:435.00px;">Retention</div>
<div class="t" style="top:294.35px;font-size:5.2px;line-height:5.2px;font-weight:normal;color:#1414f6;left:462.60px;">All Details</div>
<svg class="r" style="left:0;top:0" width="924" height="532"><line x1="352.9" y1="494.69" x2="504" y2="494.69" stroke="#e6e6e6" stroke-width="0.8"/><line x1="350.9" y1="494.69" x2="352.9" y2="494.69" stroke="#c8c8c8" stroke-width="0.8"/><line x1="352.9" y1="483.40" x2="504" y2="483.40" stroke="#e6e6e6" stroke-width="0.8"/><line x1="350.9" y1="483.40" x2="352.9" y2="483.40" stroke="#c8c8c8" stroke-width="0.8"/><line x1="352.9" y1="472.11" x2="504" y2="472.11" stroke="#e6e6e6" stroke-width="0.8"/><line x1="350.9" y1="472.11" x2="352.9" y2="472.11" stroke="#c8c8c8" stroke-width="0.8"/><line x1="352.9" y1="460.82" x2="504" y2="460.82" stroke="#e6e6e6" stroke-width="0.8"/><line x1="350.9" y1="460.82" x2="352.9" y2="460.82" stroke="#c8c8c8" stroke-width="0.8"/><line x1="352.9" y1="449.53" x2="504" y2="449.53" stroke="#e6e6e6" stroke-width="0.8"/><line x1="350.9" y1="449.53" x2="352.9" y2="449.53" stroke="#c8c8c8" stroke-width="0.8"/><line x1="352.9" y1="438.24" x2="504" y2="438.24" stroke="#e6e6e6" stroke-width="0.8"/><line x1="350.9" y1="438.24" x2="352.9" y2="438.24" stroke="#c8c8c8" stroke-width="0.8"/><line x1="352.9" y1="426.95" x2="504" y2="426.95" stroke="#e6e6e6" stroke-width="0.8"/><line x1="350.9" y1="426.95" x2="352.9" y2="426.95" stroke="#c8c8c8" stroke-width="0.8"/><line x1="352.9" y1="415.66" x2="504" y2="415.66" stroke="#e6e6e6" stroke-width="0.8"/><line x1="350.9" y1="415.66" x2="352.9" y2="415.66" stroke="#c8c8c8" stroke-width="0.8"/><line x1="352.9" y1="404.37" x2="504" y2="404.37" stroke="#e6e6e6" stroke-width="0.8"/><line x1="350.9" y1="404.37" x2="352.9" y2="404.37" stroke="#c8c8c8" stroke-width="0.8"/><line x1="352.9" y1="393.08" x2="504" y2="393.08" stroke="#e6e6e6" stroke-width="0.8"/><line x1="350.9" y1="393.08" x2="352.9" y2="393.08" stroke="#c8c8c8" stroke-width="0.8"/><line x1="352.9" y1="381.79" x2="504" y2="381.79" stroke="#e6e6e6" stroke-width="0.8"/><line x1="350.9" y1="381.79" x2="352.9" y2="381.79" stroke="#c8c8c8" stroke-width="0.8"/><line x1="352.9" y1="370.50" x2="504" y2="370.50" stroke="#e6e6e6" stroke-width="0.8"/><line x1="350.9" y1="370.50" x2="352.9" y2="370.50" stroke="#c8c8c8" stroke-width="0.8"/><line x1="352.9" y1="359.21" x2="504" y2="359.21" stroke="#e6e6e6" stroke-width="0.8"/><line x1="350.9" y1="359.21" x2="352.9" y2="359.21" stroke="#c8c8c8" stroke-width="0.8"/><rect x="352.9" y="359.21" width="151.10" height="135.48" fill="none" stroke="#cfcfcf" stroke-width="0.8"/><line x1="352.9" y1="359.21" x2="352.9" y2="494.69" stroke="#d0d0d0" stroke-width="1"/><line x1="352.9" y1="494.69" x2="504" y2="494.69" stroke="#cfcfcf" stroke-width="0.9"/><line x1="352.9" y1="494.69" x2="352.9" y2="496.69" stroke="#c8c8c8" stroke-width="0.8"/><line x1="366.5" y1="494.69" x2="366.5" y2="496.69" stroke="#c8c8c8" stroke-width="0.8"/><line x1="380.6" y1="494.69" x2="380.6" y2="496.69" stroke="#c8c8c8" stroke-width="0.8"/><line x1="394.2" y1="494.69" x2="394.2" y2="496.69" stroke="#c8c8c8" stroke-width="0.8"/><line x1="407.9" y1="494.69" x2="407.9" y2="496.69" stroke="#c8c8c8" stroke-width="0.8"/><line x1="421.5" y1="494.69" x2="421.5" y2="496.69" stroke="#c8c8c8" stroke-width="0.8"/><line x1="435.8" y1="494.69" x2="435.8" y2="496.69" stroke="#c8c8c8" stroke-width="0.8"/><line x1="449.4" y1="494.69" x2="449.4" y2="496.69" stroke="#c8c8c8" stroke-width="0.8"/><line x1="462.9" y1="494.69" x2="462.9" y2="496.69" stroke="#c8c8c8" stroke-width="0.8"/><line x1="476.3" y1="494.69" x2="476.3" y2="496.69" stroke="#c8c8c8" stroke-width="0.8"/><line x1="490.3" y1="494.69" x2="490.3" y2="496.69" stroke="#c8c8c8" stroke-width="0.8"/><line x1="504" y1="494.69" x2="504" y2="496.69" stroke="#c8c8c8" stroke-width="0.8"/><polyline points="352.9,483.4 366.5,487.0 380.6,483.4 394.2,483.4 407.9,483.4 421.5,374.8 435.8,474.5 449.4,482.1 462.9,479.5 476.3,479.0 490.3,456.7 504,468.0" fill="none" stroke="#f7941d" stroke-width="1.55" stroke-linejoin="miter"/></svg>
<div class="t" style="top:492.71px;font-size:5.45px;line-height:5.45px;font-weight:normal;color:#626262;right:574.20px;">-200,000</div>
<div class="t" style="top:481.42px;font-size:5.45px;line-height:5.45px;font-weight:normal;color:#626262;right:574.20px;">0</div>
<div class="t" style="top:470.13px;font-size:5.45px;line-height:5.45px;font-weight:normal;color:#626262;right:574.20px;">200,000</div>
<div class="t" style="top:458.84px;font-size:5.45px;line-height:5.45px;font-weight:normal;color:#626262;right:574.20px;">400,000</div>
<div class="t" style="top:447.55px;font-size:5.45px;line-height:5.45px;font-weight:normal;color:#626262;right:574.20px;">600,000</div>
<div class="t" style="top:436.26px;font-size:5.45px;line-height:5.45px;font-weight:normal;color:#626262;right:574.20px;">800,000</div>
<div class="t" style="top:424.97px;font-size:5.45px;line-height:5.45px;font-weight:normal;color:#626262;right:574.20px;">1,000,000</div>
<div class="t" style="top:413.68px;font-size:5.45px;line-height:5.45px;font-weight:normal;color:#626262;right:574.20px;">1,200,000</div>
<div class="t" style="top:402.39px;font-size:5.45px;line-height:5.45px;font-weight:normal;color:#626262;right:574.20px;">1,400,000</div>
<div class="t" style="top:391.10px;font-size:5.45px;line-height:5.45px;font-weight:normal;color:#626262;right:574.20px;">1,600,000</div>
<div class="t" style="top:379.81px;font-size:5.45px;line-height:5.45px;font-weight:normal;color:#626262;right:574.20px;">1,800,000</div>
<div class="t" style="top:368.52px;font-size:5.45px;line-height:5.45px;font-weight:normal;color:#626262;right:574.20px;">2,000,000</div>
<div class="t" style="top:357.23px;font-size:5.45px;line-height:5.45px;font-weight:normal;color:#626262;right:574.20px;">2,200,000</div>
<div class="t" style="top:498.12px;font-size:5.65px;line-height:5.65px;font-weight:normal;color:#666;left:202.90px;width:300px;text-align:center;">JUN</div>
<div class="t" style="top:498.12px;font-size:5.65px;line-height:5.65px;font-weight:normal;color:#666;left:216.50px;width:300px;text-align:center;">JUL</div>
<div class="t" style="top:498.12px;font-size:5.65px;line-height:5.65px;font-weight:normal;color:#666;left:230.60px;width:300px;text-align:center;">AUG</div>
<div class="t" style="top:498.12px;font-size:5.65px;line-height:5.65px;font-weight:normal;color:#666;left:244.20px;width:300px;text-align:center;">SEP</div>
<div class="t" style="top:498.12px;font-size:5.65px;line-height:5.65px;font-weight:normal;color:#666;left:257.90px;width:300px;text-align:center;">OCT</div>
<div class="t" style="top:498.12px;font-size:5.65px;line-height:5.65px;font-weight:normal;color:#666;left:271.50px;width:300px;text-align:center;">NOV</div>
<div class="t" style="top:498.12px;font-size:5.65px;line-height:5.65px;font-weight:normal;color:#666;left:285.80px;width:300px;text-align:center;">DEC</div>
<div class="t" style="top:498.12px;font-size:5.65px;line-height:5.65px;font-weight:normal;color:#666;left:299.40px;width:300px;text-align:center;">JAN</div>
<div class="t" style="top:498.12px;font-size:5.65px;line-height:5.65px;font-weight:normal;color:#666;left:312.90px;width:300px;text-align:center;">FEB</div>
<div class="t" style="top:498.12px;font-size:5.65px;line-height:5.65px;font-weight:normal;color:#666;left:326.30px;width:300px;text-align:center;">MAR</div>
<div class="t" style="top:498.12px;font-size:5.65px;line-height:5.65px;font-weight:normal;color:#666;left:340.30px;width:300px;text-align:center;">APR</div>
<div class="t" style="top:498.12px;font-size:5.65px;line-height:5.65px;font-weight:normal;color:#666;left:354.00px;width:300px;text-align:center;">MAY</div>
<svg class="r" style="left:0;top:0" width="924" height="532"><line x1="649.8" y1="247.60" x2="810.4" y2="247.60" stroke="#e6e6e6" stroke-width="0.8"/><line x1="647.8" y1="247.60" x2="649.8" y2="247.60" stroke="#c8c8c8" stroke-width="0.8"/><line x1="649.8" y1="235.30" x2="810.4" y2="235.30" stroke="#e6e6e6" stroke-width="0.8"/><line x1="647.8" y1="235.30" x2="649.8" y2="235.30" stroke="#c8c8c8" stroke-width="0.8"/><line x1="649.8" y1="223.00" x2="810.4" y2="223.00" stroke="#e6e6e6" stroke-width="0.8"/><line x1="647.8" y1="223.00" x2="649.8" y2="223.00" stroke="#c8c8c8" stroke-width="0.8"/><line x1="649.8" y1="210.70" x2="810.4" y2="210.70" stroke="#e6e6e6" stroke-width="0.8"/><line x1="647.8" y1="210.70" x2="649.8" y2="210.70" stroke="#c8c8c8" stroke-width="0.8"/><line x1="649.8" y1="198.40" x2="810.4" y2="198.40" stroke="#e6e6e6" stroke-width="0.8"/><line x1="647.8" y1="198.40" x2="649.8" y2="198.40" stroke="#c8c8c8" stroke-width="0.8"/><line x1="649.8" y1="186.10" x2="810.4" y2="186.10" stroke="#e6e6e6" stroke-width="0.8"/><line x1="647.8" y1="186.10" x2="649.8" y2="186.10" stroke="#c8c8c8" stroke-width="0.8"/><line x1="649.8" y1="173.80" x2="810.4" y2="173.80" stroke="#e6e6e6" stroke-width="0.8"/><line x1="647.8" y1="173.80" x2="649.8" y2="173.80" stroke="#c8c8c8" stroke-width="0.8"/><line x1="649.8" y1="161.50" x2="810.4" y2="161.50" stroke="#e6e6e6" stroke-width="0.8"/><line x1="647.8" y1="161.50" x2="649.8" y2="161.50" stroke="#c8c8c8" stroke-width="0.8"/><line x1="649.8" y1="149.20" x2="810.4" y2="149.20" stroke="#e6e6e6" stroke-width="0.8"/><line x1="647.8" y1="149.20" x2="649.8" y2="149.20" stroke="#c8c8c8" stroke-width="0.8"/><line x1="649.8" y1="136.90" x2="810.4" y2="136.90" stroke="#e6e6e6" stroke-width="0.8"/><line x1="647.8" y1="136.90" x2="649.8" y2="136.90" stroke="#c8c8c8" stroke-width="0.8"/><line x1="649.8" y1="124.60" x2="810.4" y2="124.60" stroke="#e6e6e6" stroke-width="0.8"/><line x1="647.8" y1="124.60" x2="649.8" y2="124.60" stroke="#c8c8c8" stroke-width="0.8"/><line x1="649.8" y1="112.30" x2="810.4" y2="112.30" stroke="#e6e6e6" stroke-width="0.8"/><line x1="647.8" y1="112.30" x2="649.8" y2="112.30" stroke="#c8c8c8" stroke-width="0.8"/><rect x="649.8" y="112.30" width="160.60" height="135.30" fill="none" stroke="#cfcfcf" stroke-width="0.8"/><line x1="649.8" y1="112.30" x2="649.8" y2="247.60" stroke="#d0d0d0" stroke-width="1"/><line x1="649.8" y1="247.60" x2="810.4" y2="247.60" stroke="#cfcfcf" stroke-width="0.9"/><line x1="690" y1="247.60" x2="690" y2="249.60" stroke="#c8c8c8" stroke-width="0.8"/><line x1="770.4" y1="247.60" x2="770.4" y2="249.60" stroke="#c8c8c8" stroke-width="0.8"/><rect x="682.4" y="200.5" width="14.70" height="7.00" fill="#f9e95a"/><rect x="682.4" y="207.5" width="14.70" height="27.80" fill="#f7a035"/><rect x="763" y="120.6" width="14.80" height="6.30" fill="#f9e95a"/><rect x="763" y="126.9" width="14.80" height="108.40" fill="#f7a035"/></svg>
<div class="t" style="top:245.63px;font-size:5.45px;line-height:5.45px;font-weight:normal;color:#626262;right:277.50px;">-100,000</div>
<div class="t" style="top:233.33px;font-size:5.45px;line-height:5.45px;font-weight:normal;color:#626262;right:277.50px;">0</div>
<div class="t" style="top:221.03px;font-size:5.45px;line-height:5.45px;font-weight:normal;color:#626262;right:277.50px;">100,000</div>
<div class="t" style="top:208.73px;font-size:5.45px;line-height:5.45px;font-weight:normal;color:#626262;right:277.50px;">200,000</div>
<div class="t" style="top:196.43px;font-size:5.45px;line-height:5.45px;font-weight:normal;color:#626262;right:277.50px;">300,000</div>
<div class="t" style="top:184.13px;font-size:5.45px;line-height:5.45px;font-weight:normal;color:#626262;right:277.50px;">400,000</div>
<div class="t" style="top:171.83px;font-size:5.45px;line-height:5.45px;font-weight:normal;color:#626262;right:277.50px;">500,000</div>
<div class="t" style="top:159.53px;font-size:5.45px;line-height:5.45px;font-weight:normal;color:#626262;right:277.50px;">600,000</div>
<div class="t" style="top:147.22px;font-size:5.45px;line-height:5.45px;font-weight:normal;color:#626262;right:277.50px;">700,000</div>
<div class="t" style="top:134.93px;font-size:5.45px;line-height:5.45px;font-weight:normal;color:#626262;right:277.50px;">800,000</div>
<div class="t" style="top:122.63px;font-size:5.45px;line-height:5.45px;font-weight:normal;color:#626262;right:277.50px;">900,000</div>
<div class="t" style="top:110.33px;font-size:5.45px;line-height:5.45px;font-weight:normal;color:#626262;right:277.50px;">1,000,000</div>
<div class="t" style="top:251.32px;font-size:5.65px;line-height:5.65px;font-weight:normal;color:#666;left:540.00px;width:300px;text-align:center;">Current Period</div>
<div class="t" style="top:251.32px;font-size:5.65px;line-height:5.65px;font-weight:normal;color:#666;left:620.40px;width:300px;text-align:center;">YTD</div>
<div class="r" style="left:617.70px;top:270.80px;width:4.80px;height:4.50px;background:#f7a035;"></div>
<div class="t" style="top:270.85px;font-size:6.8px;line-height:6.8px;font-weight:normal;color:#5a5a5a;left:624.80px;">Jobs</div>
<div class="r" style="left:654.80px;top:270.80px;width:4.80px;height:4.50px;background:#f9e95a;"></div>
<div class="t" style="top:270.95px;font-size:6.6px;line-height:6.6px;font-weight:normal;color:#5a5a5a;left:662.00px;">Work Orders</div>
<div class="r" style="left:714.10px;top:270.80px;width:4.80px;height:4.50px;background:#b7d84f;"></div>
<div class="t" style="top:270.95px;font-size:6.6px;line-height:6.6px;font-weight:normal;color:#5a5a5a;left:721.30px;">Maint. Contracts</div>
<div class="r" style="left:610.50px;top:283.00px;width:283.30px;height:1.00px;background:#b0b0b0;"></div>
<div class="t" style="top:294.21px;font-size:5.08px;line-height:5.08px;font-weight:normal;color:#1414f6;left:616.80px;">Combined Gross Margin</div>
<div class="t" style="top:355.20px;font-size:5.3px;line-height:5.3px;font-weight:bold;color:#000;-webkit-text-stroke:0;right:89.00px;">Hours</div>
<div class="t" style="top:355.20px;font-size:5.3px;line-height:5.3px;font-weight:bold;color:#000;-webkit-text-stroke:0;right:32.50px;">Cost</div>
<div class="t" style="top:364.98px;font-size:5.15px;line-height:5.15px;font-weight:bold;color:#000;-webkit-text-stroke:0;left:614.50px;">Projected Variance</div>
<div class="t" style="top:364.98px;font-size:5.15px;line-height:5.15px;font-weight:bold;color:#000;-webkit-text-stroke:0;right:89.00px;">72</div>
<div class="t" style="top:365.57px;font-size:4.96px;line-height:4.96px;font-weight:bold;color:#000;-webkit-text-stroke:0;right:32.50px;">$403,870</div>
<div class="t" style="top:374.56px;font-size:5.17px;line-height:5.17px;font-weight:normal;color:#111;left:627.50px;">Original Estimate</div>
<div class="t" style="top:374.56px;font-size:5.17px;line-height:5.17px;font-weight:normal;color:#222;right:89.00px;">3,400</div>
<div class="t" style="top:374.56px;font-size:5.17px;line-height:5.17px;font-weight:normal;color:#222;right:32.50px;">$551,307</div>
<div class="t" style="top:384.37px;font-size:5.17px;line-height:5.17px;font-weight:normal;color:#111;left:627.50px;">Approved Estimate Changes</div>
<div class="t" style="top:384.37px;font-size:5.17px;line-height:5.17px;font-weight:normal;color:#222;right:89.00px;">280</div>
<div class="t" style="top:384.37px;font-size:5.17px;line-height:5.17px;font-weight:normal;color:#222;right:32.50px;">$40,040</div>
<div class="t" style="top:394.17px;font-size:5.17px;line-height:5.17px;font-weight:normal;color:#111;left:627.50px;">Current Estimate</div>
<div class="t" style="top:394.17px;font-size:5.17px;line-height:5.17px;font-weight:normal;color:#222;right:89.00px;">3,680</div>
<div class="t" style="top:394.17px;font-size:5.17px;line-height:5.17px;font-weight:normal;color:#222;right:32.50px;">$591,347</div>
<div class="t" style="top:404.56px;font-size:5.17px;line-height:5.17px;font-weight:normal;color:#000;left:627.50px;">Forecast at Complete</div>
<div class="t" style="top:404.56px;font-size:5.17px;line-height:5.17px;font-weight:normal;color:#222;right:89.00px;">3,606</div>
<div class="t" style="top:404.56px;font-size:5.17px;line-height:5.17px;font-weight:normal;color:#222;right:32.50px;">$187,477</div>
<div class="r" style="left:614.00px;top:416.00px;width:277.00px;height:1.00px;background:#b4b4b4;"></div>
<div class="t" style="top:424.93px;font-size:5.25px;line-height:5.25px;font-weight:normal;color:#111;left:614.20px;">Actuals - Job to Date</div>
<div class="t" style="top:434.73px;font-size:5.25px;line-height:5.25px;font-weight:normal;color:#111;left:614.20px;">Actuals - Previous Week</div>
<div class="t" style="top:444.62px;font-size:5.25px;line-height:5.25px;font-weight:normal;color:#111;left:614.20px;">Actuals - Current Week</div>
<div class="t" style="top:424.97px;font-size:5.17px;line-height:5.17px;font-weight:normal;color:#222;right:89.00px;">3,391</div>
<div class="t" style="top:424.97px;font-size:5.17px;line-height:5.17px;font-weight:normal;color:#222;right:32.50px;">$155,307</div>
<div class="t" style="top:434.77px;font-size:5.17px;line-height:5.17px;font-weight:normal;color:#222;right:89.00px;">0</div>
<div class="t" style="top:434.77px;font-size:5.17px;line-height:5.17px;font-weight:normal;color:#222;right:32.50px;">$0</div>
<div class="t" style="top:444.67px;font-size:5.17px;line-height:5.17px;font-weight:normal;color:#222;right:89.00px;">0</div>
<div class="t" style="top:444.67px;font-size:5.17px;line-height:5.17px;font-weight:normal;color:#222;right:32.50px;">$0</div>
<div class="r" style="left:614.00px;top:456.00px;width:277.00px;height:1.00px;background:#b4b4b4;"></div>
<div class="t" style="top:463.88px;font-size:5.35px;line-height:5.35px;font-weight:normal;color:#1414f6;left:611.00px;">Productivity</div>
<div class="t" style="top:463.90px;font-size:5.3px;line-height:5.3px;font-weight:normal;color:#1414f6;left:644.00px;">Cost Summary</div>
<div class="t" style="top:517.12px;font-size:5.25px;line-height:5.25px;font-weight:bold;color:#1414f6;-webkit-text-stroke:0;left:612.70px;">Cash Position</div>
<div class="t" style="top:517.25px;font-size:5.0px;line-height:5.0px;font-weight:bold;color:#111;-webkit-text-stroke:0;right:31.00px;">$189,673</div>
<div class="r" style="left:0.00px;top:530.00px;width:923.00px;height:1.00px;background:#8a8a8a;"></div>
<div class="r" style="left:0.00px;top:8.00px;width:1.00px;height:523.00px;background:#7a7a7a;"></div>
<svg class="r" style="left:490px;top:1px" width="19" height="7"><path d="M1,0.8 H18 V4.2 Q18,5.8 16.4,5.8 H2.6 Q1,5.8 1,4.2 Z" fill="#4a4a4a"/><polyline points="4,2.6 6,3.8 8,2.6 10,3.8 12,2.6 14,3.8" fill="none" stroke="#2a2a2a" stroke-width="0.8"/></svg>
</body></html>
